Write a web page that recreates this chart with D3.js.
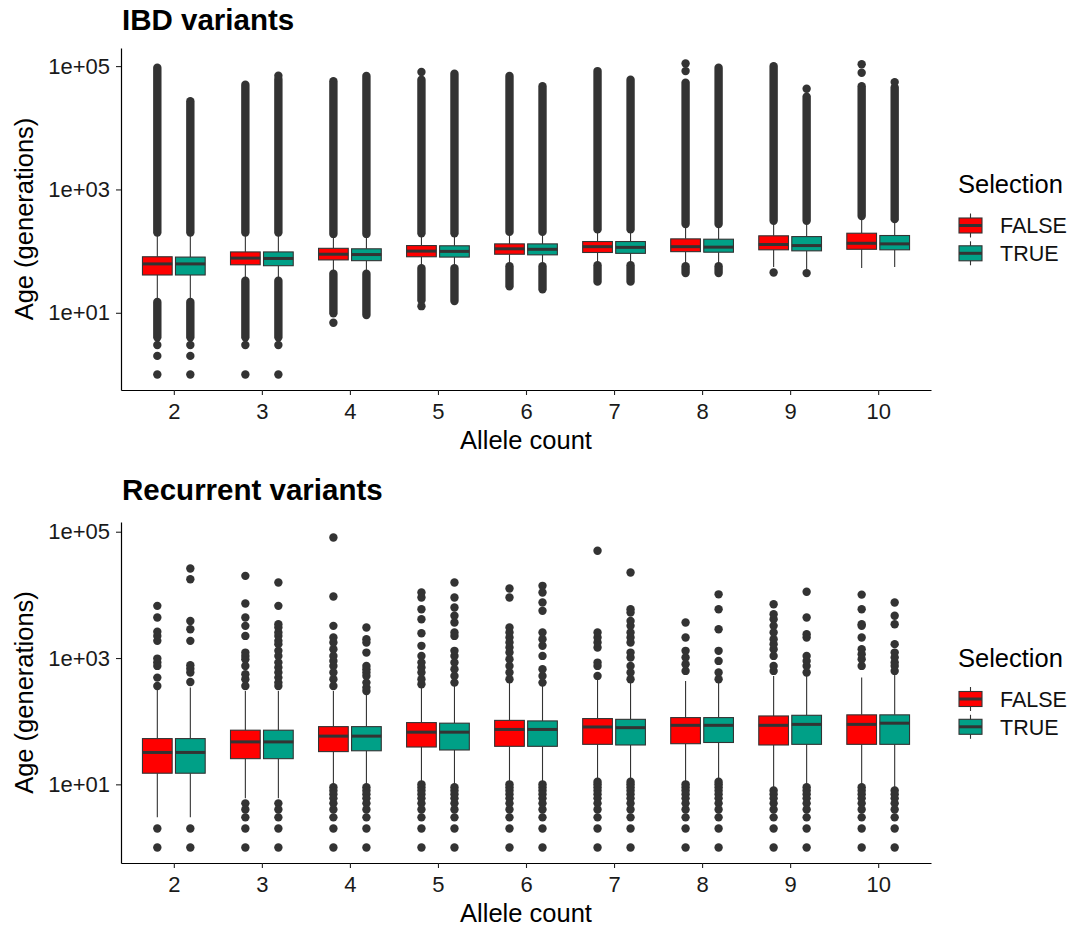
<!DOCTYPE html>
<html><head><meta charset="utf-8">
<script src="https://cdn.jsdelivr.net/npm/d3@7"></script>
<style>
body{margin:0;background:#fff}
svg{display:block}
text{font-family:"Liberation Sans",Arial,Helvetica,sans-serif}
</style></head>
<body><svg id="chart" width="1071" height="928"></svg>
<script>
// ---------- data ----------
const alleleCounts = ["2","3","4","5","6","7","8","9","10"];
const selectionLevels = ["FALSE","TRUE"];
const selectionColors = ["#FF0000","#00A087"];
const yTickValues = [10, 1000, 100000];
const yTickLabels = ["1e+01","1e+03","1e+05"];

// IBD variants, Selection = FALSE
const ibdFalseQ1 = [41,60,72,81,89,95,98,105,107];
const ibdFalseMedian = [62,77,89,100,109,118,118,128,134];
const ibdFalseQ3 = [81,97,111,123,131,143,158,177,195];
const ibdFalseWhiskerLow = [16,34,44,54,58,60,60,55,53];
const ibdFalseWhiskerHigh = [195,195,183,190,200,221,267,303,363];
// runs of densely overlapping outliers [from, to]
const ibdFalseUpperRun = [[200,94000],[200,50000],[190,57000],[195,60000],[205,69000],[225,83000],[275,54000],[310,100000],[370,47000]];
const ibdFalseLowerRun = [[4,15],[4,33],[9.8,43],[16,53],[27,57],[32,59],[44,57],null,null];
const ibdFalseOutliers = [[3,2,1],[3,1],[6.9],[12.8,80000],[],[],[83000,110000],[45],[78000,107000]];

// IBD variants, Selection = TRUE
const ibdTrueQ1 = [41,58,70,80,87,92,96,101,105];
const ibdTrueMedian = [62,76,88,99,107,115,116,123,131];
const ibdTrueQ3 = [80,97,109,122,131,143,156,172,179];
const ibdTrueWhiskerLow = [16,34,44,54,58,60,60,51,55];
const ibdTrueWhiskerHigh = [195,195,183,190,200,221,267,303,321];
const ibdTrueUpperRun = [[200,27000],[200,62000],[190,69000],[195,75000],[205,47000],[225,60000],[275,94000],[310,32000],[330,45000]];
const ibdTrueLowerRun = [[4,15],[4,33],[9.2,43],[15.5,53],[24,57],[32,59],[44,57],null,null];
const ibdTrueOutliers = [[3,2,1],[70000,3,1],[],[],[],[],[],[43000,44],[55000]];

// Recurrent variants, Selection = FALSE
const recFalseQ1 = [15,25.5,33,39,40,43,44,42,43];
const recFalseMedian = [32,47,58,67,74,81,86,86,89];
const recFalseQ3 = [53,72,82,95,103,110,114,121,126];
const recFalseWhiskerLow = [3,6,10,11,11,12,11,9,10];
const recFalseWhiskerHigh = [340,301,301,361,434,490,434,521,490];
const recFalseOutliers = [
  [361,490,750,847,980,1870,2240,2600,4380,6700,2,1],
  [361,461,553,750,957,1080,1220,2240,3230,4380,7300,20000,5,4,3,2,1],
  [361,461,589,750,900,1080,1380,1760,2110,3230,9400,81000,9,8,7,6,5,4,3,2,1],
  [384,461,589,706,847,1080,1560,2470,4120,5930,9080,10900,10,9,8,7,6,5,4,3,2,1],
  [461,589,750,957,1220,1470,1760,2110,2530,3040,9080,12600,10,9,8,7,6,5,4,3,2,1],
  [521,750,847,1470,1760,2110,2530,49900,11,10,9,8,7,6,5,4,3,2,1],
  [625,798,1020,1300,2110,3650,10,9,8,7,6,5,4,3,2,1],
  [625,750,1080,1380,1660,1990,2530,3230,4120,4940,7110,8,7,6,5,4,3,2,1],
  [750,957,1150,1380,2110,3230,3430,5930,10100,9,8,7,6,5,4,3,2,1]
];

// Recurrent variants, Selection = TRUE
const recTrueQ1 = [15,25.5,34,35,40,42,46,43,43];
const recTrueMedian = [32,47,58,67,74,79,86,89,93];
const recTrueQ3 = [53,72,82,93,101,107,114,124,126];
const recTrueWhiskerLow = [3,6,10,10,11,12,12,10,9];
const recTrueWhiskerHigh = [340,301,267,361,361,408,408,521,553];
const recTrueOutliers = [
  [417,590,676,770,1870,2860,3870,17700,26200,2,1],
  [361,408,490,589,706,847,1080,1300,1660,1870,2240,2530,3040,3430,6700,15700,5,4,3,2,1],
  [301,340,408,521,589,664,750,1220,1760,1990,3040,9,8,7,6,5,4,3,2,1],
  [408,521,664,847,1080,1300,2240,2530,3650,4660,6310,9080,15700,9,8,7,6,5,4,3,2,1],
  [408,521,664,1080,1560,1990,2530,5590,7570,10900,13900,10,9,8,7,6,5,4,3,2,1],
  [461,589,750,1020,1220,1760,2110,2530,3230,3870,5250,5930,22600,11,10,9,8,7,6,5,4,3,2,1],
  [461,589,900,1300,2860,5930,10200,11,10,9,8,7,6,5,4,3,2,1],
  [589,750,900,1080,2110,2380,4380,11200,9,8,7,6,5,4,3,2,1],
  [625,750,847,1020,1220,1660,3430,4660,7570,8,7,6,5,4,3,2,1]
];

// ---------- build ----------
function series(q1, med, q3, wlo, whi, outl, upRun, loRun) {
  return alleleCounts.map((a, i) => ({
    allele: a, q1: q1[i], median: med[i], q3: q3[i], wlo: wlo[i], whi: whi[i],
    outliers: outl[i], upRun: upRun ? upRun[i] : null, loRun: loRun ? loRun[i] : null
  }));
}

const panels = [
  { title: "IBD variants", titleY: 29.5, yTop: 48, yBottom: 390,
    groups: [
      series(ibdFalseQ1, ibdFalseMedian, ibdFalseQ3, ibdFalseWhiskerLow, ibdFalseWhiskerHigh, ibdFalseOutliers, ibdFalseUpperRun, ibdFalseLowerRun),
      series(ibdTrueQ1, ibdTrueMedian, ibdTrueQ3, ibdTrueWhiskerLow, ibdTrueWhiskerHigh, ibdTrueOutliers, ibdTrueUpperRun, ibdTrueLowerRun)
    ] },
  { title: "Recurrent variants", titleY: 500, yTop: 522, yBottom: 863,
    groups: [
      series(recFalseQ1, recFalseMedian, recFalseQ3, recFalseWhiskerLow, recFalseWhiskerHigh, recFalseOutliers),
      series(recTrueQ1, recTrueMedian, recTrueQ3, recTrueWhiskerLow, recTrueWhiskerHigh, recTrueOutliers)
    ] }
];

const svg = d3.select("#chart");
const left = 121, right = 931;
const ink = "#333333";
const dotR = 4.2;

panels.forEach(p => {
  const g = svg.append("g");
  const x = d3.scalePoint().domain(alleleCounts).range([left, right]).padding(0.6);
  const step = x.step();
  const xs = d3.scaleBand().domain(selectionLevels).range([-0.375 * step, 0.375 * step])
    .paddingInner(0.1).paddingOuter(0.05);

  // y domain: data range in log space expanded by 5%
  const vals = [];
  p.groups.forEach(s => s.forEach(d => {
    vals.push(d.q1, d.q3, d.wlo, d.whi, ...d.outliers);
    if (d.upRun) vals.push(...d.upRun);
    if (d.loRun) vals.push(...d.loRun);
  }));
  const lmin = Math.log10(d3.min(vals)), lmax = Math.log10(d3.max(vals));
  const pad = (lmax - lmin) * 0.05;
  const y = d3.scaleLog().domain([10 ** (lmin - pad), 10 ** (lmax + pad)]).range([p.yBottom, p.yTop]);

  p.groups.forEach((s, si) => {
    const sel = selectionLevels[si];
    const color = selectionColors[si];
    const cx = d => x(d.allele) + xs(sel) + xs.bandwidth() / 2;
    const gg = g.append("g");
    // dense outlier runs
    gg.selectAll("line.run").data(s.flatMap(d => [d.upRun, d.loRun].filter(r => r).map(r => ({ d, r }))))
      .join("line").attr("class", "run")
      .attr("x1", o => cx(o.d)).attr("x2", o => cx(o.d))
      .attr("y1", o => y(o.r[0])).attr("y2", o => y(o.r[1]))
      .attr("stroke", ink).attr("stroke-width", dotR * 2).attr("stroke-linecap", "round");
    // outlier points
    gg.selectAll("circle").data(s.flatMap(d => d.outliers.map(v => ({ d, v }))))
      .join("circle")
      .attr("cx", o => cx(o.d)).attr("cy", o => y(o.v)).attr("r", dotR).attr("fill", ink);
    // whiskers
    gg.selectAll("line.wh").data(s).join("line").attr("class", "wh")
      .attr("x1", cx).attr("x2", cx).attr("y1", d => y(d.q3)).attr("y2", d => y(d.whi))
      .attr("stroke", ink).attr("stroke-width", 1.1);
    gg.selectAll("line.wl").data(s).join("line").attr("class", "wl")
      .attr("x1", cx).attr("x2", cx).attr("y1", d => y(d.q1)).attr("y2", d => y(d.wlo))
      .attr("stroke", ink).attr("stroke-width", 1.1);
    // boxes
    gg.selectAll("rect").data(s).join("rect")
      .attr("x", d => cx(d) - xs.bandwidth() / 2).attr("width", xs.bandwidth())
      .attr("y", d => y(d.q3)).attr("height", d => y(d.q1) - y(d.q3))
      .attr("fill", color).attr("stroke", ink).attr("stroke-width", 1.1);
    // medians
    gg.selectAll("line.med").data(s).join("line").attr("class", "med")
      .attr("x1", d => cx(d) - xs.bandwidth() / 2).attr("x2", d => cx(d) + xs.bandwidth() / 2)
      .attr("y1", d => y(d.median)).attr("y2", d => y(d.median))
      .attr("stroke", ink).attr("stroke-width", 3);
  });

  // axes
  const ya = g.append("g").attr("transform", `translate(${left},0)`)
    .call(d3.axisLeft(y).tickValues(yTickValues).tickFormat((d, i) => yTickLabels[i])
      .tickSize(5).tickSizeOuter(0).tickPadding(6));
  const xa = g.append("g").attr("transform", `translate(0,${p.yBottom})`)
    .call(d3.axisBottom(x).tickSize(5).tickSizeOuter(0).tickPadding(8));
  [ya, xa].forEach(a => {
    a.select(".domain").attr("stroke", "#000").attr("stroke-width", 1.2);
    a.selectAll(".tick line").attr("stroke", "#222").attr("stroke-width", 1.1);
    a.selectAll(".tick text").attr("fill", "#1a1a1a").style("font-size", "22px")
      .style("font-family", '"Liberation Sans",Arial,sans-serif');
  });

  // titles
  g.append("text").attr("x", 122).attr("y", p.titleY).text(p.title)
    .style("font-size", "29.5px").style("font-weight", "bold").attr("fill", "#000");
  g.append("text").attr("x", (left + right) / 2).attr("y", p.yBottom + 59)
    .attr("text-anchor", "middle").style("font-size", "25.5px").attr("fill", "#000").text("Allele count");
  const cy = (p.yTop + p.yBottom) / 2;
  g.append("text").attr("transform", `translate(33,${cy}) rotate(-90)`)
    .attr("text-anchor", "middle").style("font-size", "25.5px").attr("fill", "#000").text("Age (generations)");

  // legend
  const lg = g.append("g");
  lg.append("text").attr("x", 958).attr("y", cy - 26).style("font-size", "25.5px").attr("fill", "#000").text("Selection");
  selectionLevels.forEach((s, i) => {
    const ky = cy + 6.5 + i * 27.8;
    const kx = 970.5;
    lg.append("line").attr("x1", kx).attr("x2", kx).attr("y1", ky - 12).attr("y2", ky + 12)
      .attr("stroke", ink).attr("stroke-width", 1.1);
    lg.append("rect").attr("x", kx - 11.5).attr("y", ky - 7.5).attr("width", 23).attr("height", 15)
      .attr("fill", selectionColors[i]).attr("stroke", ink).attr("stroke-width", 1.1);
    lg.append("line").attr("x1", kx - 11.5).attr("x2", kx + 11.5).attr("y1", ky).attr("y2", ky)
      .attr("stroke", ink).attr("stroke-width", 3);
    lg.append("text").attr("x", 1000).attr("y", ky).attr("dy", "0.36em")
      .style("font-size", "21.5px").attr("fill", "#111").text(s);
  });
});
</script>
</body></html>
